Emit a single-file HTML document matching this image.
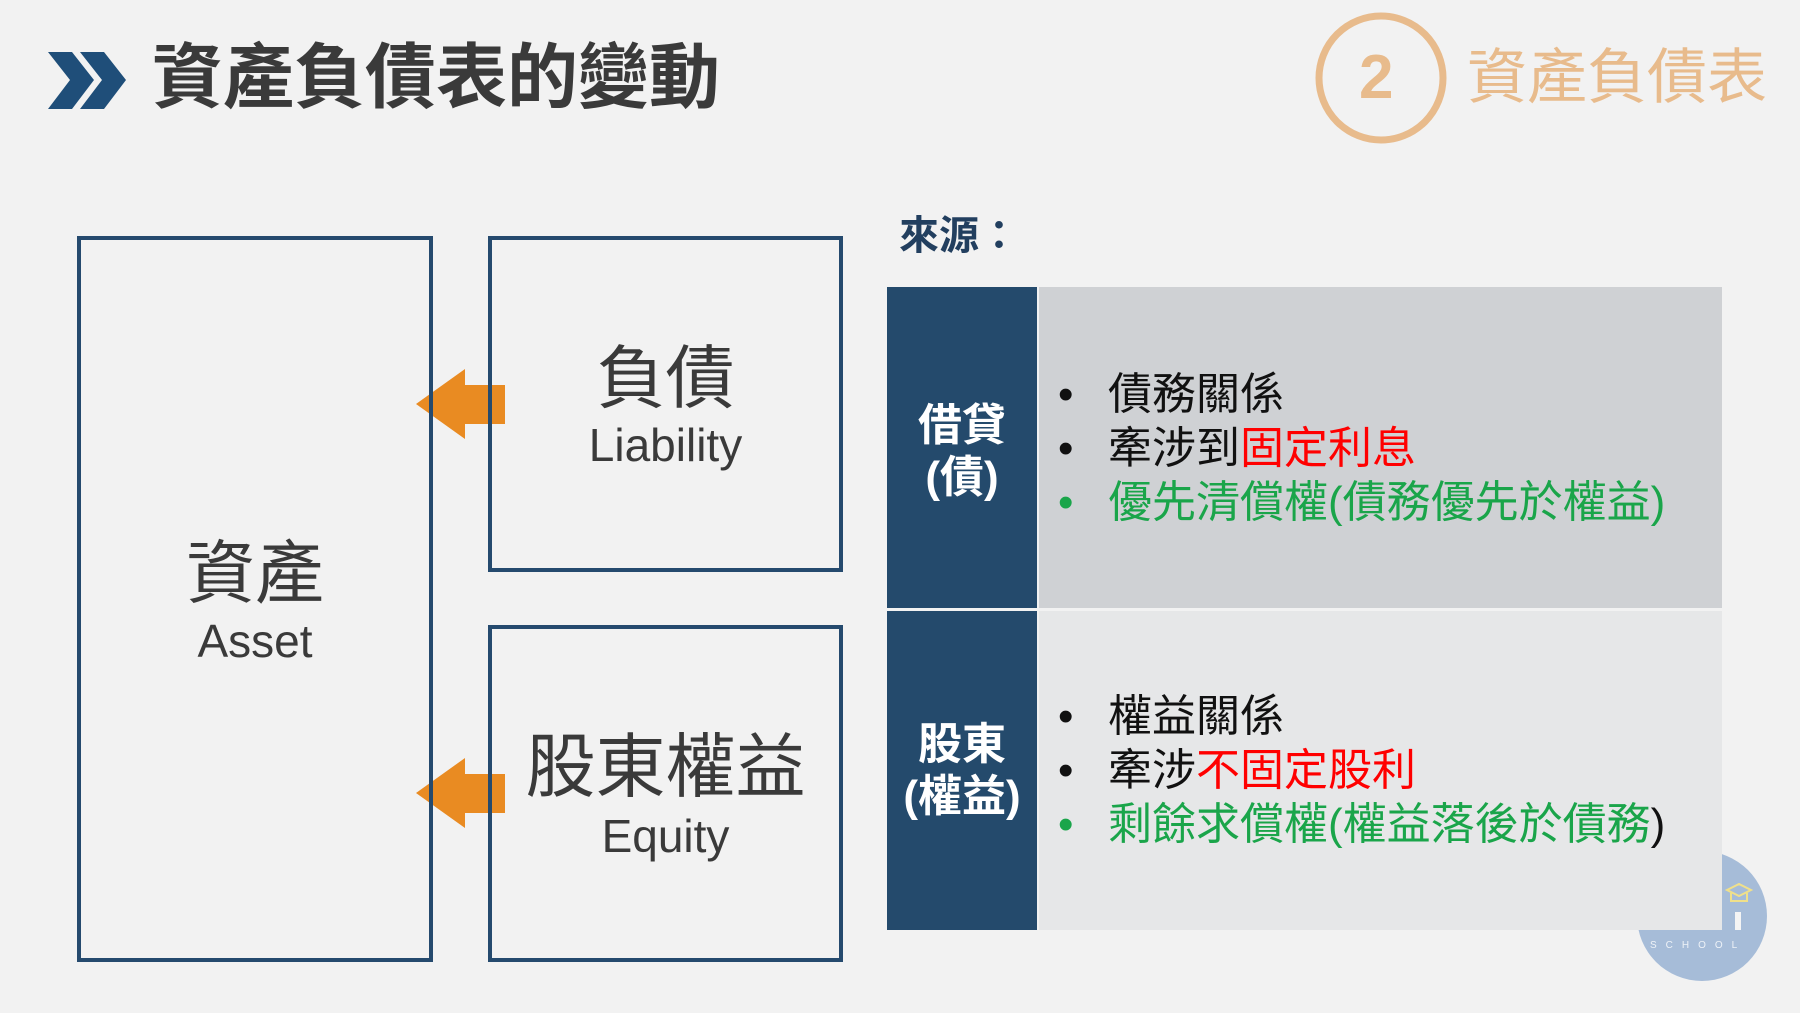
<!DOCTYPE html>
<html><head><meta charset="utf-8"><style>
html,body{margin:0;padding:0}
body{width:1800px;height:1013px;background:#f2f2f2;position:relative;overflow:hidden;font-family:"Liberation Sans","Noto Sans CJK TC",sans-serif}
.a{position:absolute;white-space:nowrap}
.box{position:absolute;border:4px solid #254a6e;box-sizing:border-box}
.c{text-align:center;line-height:1}
.li{position:absolute;left:1058px;font-size:44px;line-height:54px;white-space:nowrap}
.li span.b{display:inline-block;width:50px}
</style></head><body>
<svg class="a" style="left:0;top:0" width="1800" height="1013">
<polygon points="48,52 72,52 94,80 72,109 48,109 70,80" fill="#1f4e79"/>
<polygon points="80,52 104,52 126,80 104,109 80,109 102,80" fill="#1f4e79"/>
<circle cx="1381" cy="78" r="62" fill="none" stroke="#e8bb8c" stroke-width="7"/>
<polygon points="416,404 465,369 465,385 505,385 505,424 465,424 465,439" fill="#e98b22"/>
<polygon points="416,793 465,758 465,774 505,774 505,813 465,813 465,828" fill="#e98b22"/>
<circle cx="1702" cy="916" r="65" fill="#a6bcd8"/>
<path d="M1727,890 l12,-6 l12,6 l-12,6z M1731,893 v8 h16 v-8" fill="none" stroke="#f0e08a" stroke-width="2"/>
<rect x="1735" y="912" width="6" height="18" fill="#f4f4f4"/>
</svg>
<div class="a" style="left:152px;top:36px;font-size:71px;font-weight:bold;color:#3a3a3a;line-height:86px">資產負債表的變動</div>
<div class="a" style="left:1359px;top:48px;font-size:62px;font-weight:bold;color:#e8bb8c;line-height:60px">2</div>
<div class="a" style="left:1467px;top:46px;font-size:60px;color:#e8bb8c;line-height:64px">資產負債表</div>

<div class="box" style="left:77px;top:236px;width:356px;height:726px"></div>
<div class="box" style="left:488px;top:236px;width:355px;height:336px"></div>
<div class="box" style="left:488px;top:625px;width:355px;height:337px"></div>

<div class="a c" style="left:77px;width:356px;top:539px;font-size:69px;color:#3a3a3a">資產</div>
<div class="a c" style="left:77px;width:356px;top:618px;font-size:46px;color:#3a3a3a">Asset</div>
<div class="a c" style="left:488px;width:355px;top:344px;font-size:69px;color:#3a3a3a">負債</div>
<div class="a c" style="left:488px;width:355px;top:422px;font-size:46px;color:#3a3a3a">Liability</div>
<div class="a c" style="left:488px;width:355px;top:732px;font-size:70px;color:#3a3a3a">股東權益</div>
<div class="a c" style="left:488px;width:355px;top:813px;font-size:46px;color:#3a3a3a">Equity</div>

<div class="a" style="left:899px;top:212px;font-size:40px;font-weight:bold;color:#223f5f;line-height:48px">來源：</div>

<div class="a" style="left:887px;top:287px;width:150px;height:643px;background:#244a6c"></div>
<div class="a" style="left:1039px;top:287px;width:683px;height:321px;background:#cfd1d4"></div>
<div class="a" style="left:1039px;top:611px;width:683px;height:319px;background:#e6e7e8"></div>
<div class="a" style="left:887px;top:608px;width:835px;height:3px;background:#f2f2f2"></div>
<div class="a" style="left:1037px;top:287px;width:2px;height:643px;background:#f2f2f2"></div>

<div class="a c" style="left:887px;width:150px;top:400px;font-size:44px;font-weight:bold;color:#fff;line-height:52px;white-space:normal">借貸<br>(債)</div>
<div class="a c" style="left:887px;width:150px;top:719px;font-size:44px;font-weight:bold;color:#fff;line-height:52px;white-space:normal">股東<br>(權益)</div>

<div class="li" style="top:368px;color:#111"><span class="b">•</span>債務關係</div>
<div class="li" style="top:422px;color:#111"><span class="b">•</span>牽涉到<span style="color:#f00">固定利息</span></div>
<div class="li" style="top:476px;color:#1aa54a"><span class="b">•</span>優先清償權(債務優先於權益)</div>
<div class="li" style="top:690px;color:#111"><span class="b">•</span>權益關係</div>
<div class="li" style="top:744px;color:#111"><span class="b">•</span>牽涉<span style="color:#f00">不固定股利</span></div>
<div class="li" style="top:798px;color:#1aa54a"><span class="b">•</span>剩餘求償權(權益落後於債務<span style="color:#111">)</span></div>

<div class="a" style="left:1650px;top:940px;font-size:10px;letter-spacing:9px;color:#eef2f7">SCHOOL</div>
</body></html>
